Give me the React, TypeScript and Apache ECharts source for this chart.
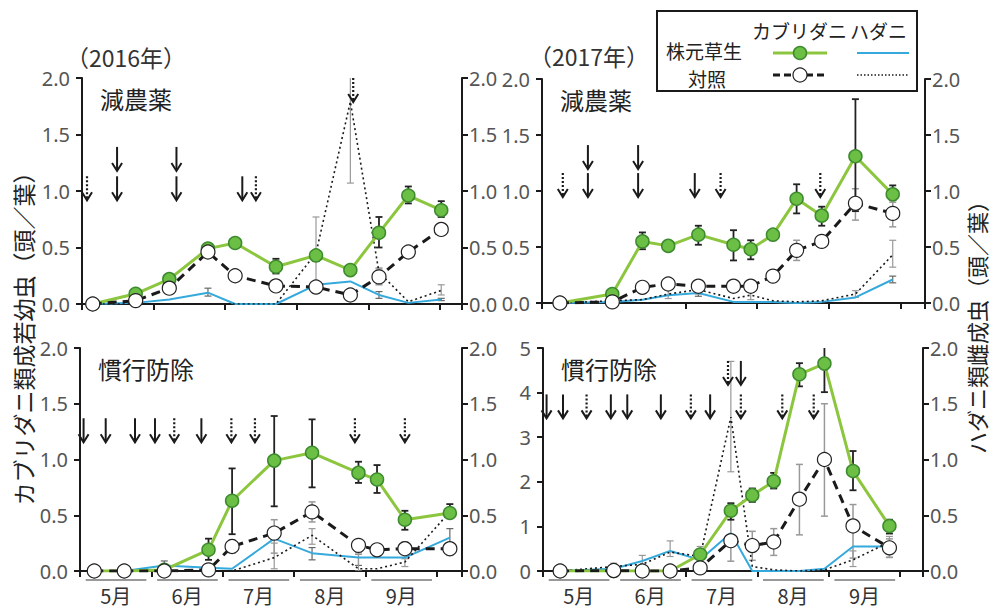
import React, { useEffect, useRef } from 'react';
import * as echarts from 'echarts';

type Err = [number, number] | null;

// x values are dates in month units (5.0 = 1 May, 6.0 = 1 June, ...)
const monthStarts = [5, 6, 7, 8, 9];

// ---- 2016, 減農薬 ----
const d16r = [5.15, 5.75, 6.22, 6.76, 7.14, 7.71, 8.27, 8.75, 9.15, 9.56, 10.02];
const kabGrass16r = [0, 0.09, 0.22, 0.49, 0.54, 0.33, 0.43, 0.30, 0.63, 0.96, 0.83];
const kabGrassErr16r: Err[] = [null, null, null, null, null, [0.27, 0.40], [0.38, 0.47], [0.27, 0.33], [0.50, 0.77], [0.89, 1.04], [0.77, 0.91]];
const kabCtrl16r = [0, 0.03, 0.14, 0.46, 0.25, 0.16, 0.15, 0.08, 0.24, 0.46, 0.66];
const kabCtrlErr16r: Err[] = [null, null, null, null, null, null, null, null, [0.17, 0.31], null, null];
const hadGrass16r = [0, 0.01, 0.04, 0.10, 0, 0, 0.17, 0.20, 0.08, 0.01, 0.04];
const hadGrassErr16r: Err[] = [null, null, null, [0.07, 0.14], null, null, null, null, [0.05, 0.11], null, [0.03, 0.05]];
const hadCtrl16r = [0, 0, 0, 0, 0, 0, 0.45, 1.79, 0.28, 0.02, 0.12];
const hadCtrlErr16r: Err[] = [null, null, null, null, null, null, [0.13, 0.77], [1.07, 2.51], [0.20, 0.32], null, [0.08, 0.17]];
// [date, top of arrow (left-axis units), 1 = dotted arrow]
const spray16r = [[5.07, 1.13, 1], [5.49, 1.39, 0], [5.49, 1.13, 0], [6.32, 1.39, 0], [6.32, 1.13, 0], [7.24, 1.13, 0], [7.43, 1.13, 1], [8.79, 2.0, 1]];

// ---- 2017, 減農薬 ----
const d17r = [5.25, 5.98, 6.40, 6.76, 7.18, 7.67, 7.91, 8.22, 8.55, 8.90, 9.37, 9.89];
const kabGrass17r = [0, 0.08, 0.55, 0.51, 0.61, 0.52, 0.48, 0.61, 0.93, 0.78, 1.31, 0.97];
const kabGrassErr17r: Err[] = [null, null, [0.48, 0.63], [0.48, 0.54], [0.52, 0.69], [0.38, 0.65], [0.39, 0.56], [0.56, 0.65], [0.80, 1.06], [0.69, 0.86], [0.82, 1.82], [0.92, 1.05]];
const kabCtrl17r = [0, 0.01, 0.14, 0.17, 0.15, 0.15, 0.15, 0.24, 0.47, 0.55, 0.89, 0.80];
const kabCtrlErr17r: Err[] = [null, null, null, null, null, null, null, null, [0.38, 0.56], null, [0.74, 1.02], [0.68, 0.90]];
const hadGrass17r = [0, 0.01, 0.03, 0.07, 0.09, 0.01, 0.01, 0.01, 0, 0.01, 0.05, 0.21];
const hadGrassErr17r: Err[] = [null, null, null, null, [0.06, 0.12], null, null, null, null, null, null, [0.18, 0.24]];
const hadCtrl17r = [0, 0.02, 0.03, 0.08, 0.12, 0.04, 0.07, 0.02, 0.01, 0.02, 0.08, 0.43];
const hadCtrlErr17r: Err[] = [null, null, null, [0.04, 0.12], [0.08, 0.16], null, [0.03, 0.10], null, null, null, [0.05, 0.11], [0.32, 0.56]];
const spray17r = [[5.29, 1.16, 1], [5.64, 1.41, 0], [5.64, 1.16, 0], [6.34, 1.41, 0], [6.34, 1.16, 0], [7.13, 1.16, 0], [7.49, 1.16, 1], [8.88, 1.16, 1]];

// ---- 2016, 慣行防除 ----
const d16c = [5.20, 5.62, 6.18, 6.80, 7.13, 7.72, 8.25, 8.90, 9.16, 9.55, 10.18];
const kabGrass16c = [0, 0, 0.01, 0.19, 0.63, 0.99, 1.06, 0.88, 0.82, 0.46, 0.52];
const kabGrassErr16c: Err[] = [null, null, null, [0.10, 0.29], [0.33, 0.92], [0.58, 1.39], [0.75, 1.36], [0.79, 0.98], [0.70, 0.95], [0.37, 0.54], [0.50, 0.60]];
const kabCtrl16c = [0, 0, 0, 0.01, 0.22, 0.34, 0.53, 0.23, 0.19, 0.20, 0.20];
const kabCtrlErr16c: Err[] = [null, null, null, null, [0.16, 0.28], [0.16, 0.46], [0.44, 0.62], [0.15, 0.27], [0.14, 0.24], [0.16, 0.26], [0.14, 0.25]];
const hadGrass16c = [0, 0, 0.05, 0.03, 0.02, 0.29, 0.16, 0.12, 0.12, 0.12, 0.30];
const hadGrassErr16c: Err[] = [null, null, [0.02, 0.09], null, null, null, [0.10, 0.21], [0.05, 0.17], null, null, [0.22, 0.38]];
const hadCtrl16c = [0, 0, 0, 0, 0, 0.12, 0.32, 0.02, 0.02, 0.08, 0.53];
const hadCtrlErr16c: Err[] = [null, null, null, null, null, [0.02, 0.25], [0.24, 0.38], [0, 0.15], null, [0.04, 0.11], null];
const spray16c = [[5.05, 1.37, 0], [5.36, 1.37, 0], [5.77, 1.37, 0], [6.05, 1.37, 0], [6.32, 1.37, 1], [6.70, 1.37, 0], [7.12, 1.37, 1], [7.45, 1.37, 1], [8.85, 1.37, 1], [9.55, 1.37, 1]];

// ---- 2017, 慣行防除 (left axis 0-5) ----
const d17c = [5.24, 5.99, 6.39, 6.78, 7.20, 7.63, 7.93, 8.23, 8.59, 8.94, 9.34, 9.85];
const kabGrass17c = [0, 0, 0, 0, 0.37, 1.35, 1.70, 2.01, 4.41, 4.65, 2.24, 1.01];
const kabGrassErr17c: Err[] = [null, null, null, null, [0.30, 0.45], [1.15, 1.52], [1.55, 1.85], [1.85, 2.20], [4.14, 4.66], [4.01, 5.31], [1.81, 2.69], [0.84, 1.15]];
const kabCtrl17c = [0, 0.01, 0, 0, 0.07, 0.68, 0.57, 0.65, 1.61, 2.50, 1.01, 0.52];
const kabCtrlErr17c: Err[] = [null, null, null, null, null, [0.22, 1.43], [0.24, 0.89], [0.35, 0.95], [0.81, 2.39], [1.23, 3.75], [0.29, 1.49], [0.31, 0.72]];
const hadGrass17c = [0, 0.02, 0.09, 0.18, 0.10, 0.34, 0, 0, 0, 0.02, 0.22, 0.22];
const hadGrassErr17c: Err[] = [null, null, null, null, null, null, null, null, null, null, null, null];
const hadCtrl17c = [0, 0.04, 0.06, 0.17, 0.13, 1.38, 0.04, 0.01, 0, 0.01, 0.10, 0.26];
const hadCtrlErr17c: Err[] = [null, [0.01, 0.07], [0.02, 0.14], [0.13, 0.27], [0.06, 0.22], [0.89, 1.88], null, null, null, null, [0.04, 0.18], [0.12, 0.31]];
const spray17c = [[5.05, 3.96, 0], [5.28, 3.96, 0], [5.61, 3.96, 1], [5.95, 3.96, 0], [6.18, 3.96, 0], [6.65, 3.96, 0], [7.07, 3.96, 1], [7.34, 3.96, 0], [7.59, 4.71, 1], [7.77, 4.71, 0], [7.77, 3.96, 1], [8.35, 3.96, 1], [8.79, 3.96, 1]];

const INK = '#1a1a1a';
const GREEN_LINE = '#8CC63F';
const GREEN_FILL = '#6CBF45';
const GREEN_EDGE = '#3D8B2E';
const BLUE = '#35A9DC';
const JP = "'Noto Sans CJK JP', 'Noto Sans', sans-serif";
const NUM = "'Noto Sans', 'Noto Sans CJK JP', sans-serif";

const panels = [
  { grid: { left: 82, top: 78, width: 380, height: 226 }, xMax: 10.31, leftMax: 2, leftInterval: 0.5, leftDigits: 1, months: false, title: '減農薬',
    dates: d16r, kabGrass: kabGrass16r, kabGrassErr: kabGrassErr16r, kabCtrl: kabCtrl16r, kabCtrlErr: kabCtrlErr16r,
    hadGrass: hadGrass16r, hadGrassErr: hadGrassErr16r, hadCtrl: hadCtrl16r, hadCtrlErr: hadCtrlErr16r, sprays: spray16r },
  { grid: { left: 542, top: 79, width: 383, height: 224 }, xMax: 10.34, leftMax: 2, leftInterval: 0.5, leftDigits: 1, months: false, title: '減農薬',
    dates: d17r, kabGrass: kabGrass17r, kabGrassErr: kabGrassErr17r, kabCtrl: kabCtrl17r, kabCtrlErr: kabCtrlErr17r,
    hadGrass: hadGrass17r, hadGrassErr: hadGrassErr17r, hadCtrl: hadCtrl17r, hadCtrlErr: hadCtrlErr17r, sprays: spray17r },
  { grid: { left: 80, top: 348, width: 382, height: 223 }, xMax: 10.35, leftMax: 2, leftInterval: 0.5, leftDigits: 1, months: true, title: '慣行防除',
    dates: d16c, kabGrass: kabGrass16c, kabGrassErr: kabGrassErr16c, kabCtrl: kabCtrl16c, kabCtrlErr: kabCtrlErr16c,
    hadGrass: hadGrass16c, hadGrassErr: hadGrassErr16c, hadCtrl: hadCtrl16c, hadCtrlErr: hadCtrlErr16c, sprays: spray16c },
  { grid: { left: 543, top: 348, width: 380, height: 223 }, xMax: 10.32, leftMax: 5, leftInterval: 1, leftDigits: 0, months: true, title: '慣行防除',
    dates: d17c, kabGrass: kabGrass17c, kabGrassErr: kabGrassErr17c, kabCtrl: kabCtrl17c, kabCtrlErr: kabCtrlErr17c,
    hadGrass: hadGrass17c, hadGrassErr: hadGrassErr17c, hadCtrl: hadCtrl17c, hadCtrlErr: hadCtrlErr17c, sprays: spray17c },
];

function errSeries(xi: number, yi: number, dates: number[], errs: Err[], color: string, width: number) {
  const data: number[][] = [];
  dates.forEach((d, k) => { const e = errs[k]; if (e) data.push([d, e[0], e[1]]); });
  return {
    type: 'custom', xAxisIndex: xi, yAxisIndex: yi, clip: true, z: 1, silent: true, data,
    encode: { x: 0, y: [1, 2] },
    renderItem: (_p: any, api: any) => {
      const x = api.value(0);
      const lo = api.coord([x, api.value(1)]);
      const hi = api.coord([x, api.value(2)]);
      const c = 3.5;
      const st = { stroke: color, lineWidth: width };
      return {
        type: 'group', children: [
          { type: 'line', shape: { x1: lo[0], y1: lo[1], x2: hi[0], y2: hi[1] }, style: st },
          { type: 'line', shape: { x1: hi[0] - c, y1: hi[1], x2: hi[0] + c, y2: hi[1] }, style: st },
          { type: 'line', shape: { x1: lo[0] - c, y1: lo[1], x2: lo[0] + c, y2: lo[1] }, style: st },
        ],
      };
    },
  };
}

function monthLabel(v: number) {
  const t = v * 2;
  const r = Math.round(t);
  if (Math.abs(t - r) > 1e-6 || r % 2 !== 1) return '';
  return `${Math.floor(v)}月`;
}

function buildOption() {
  const grids: any[] = [];
  const xAxes: any[] = [];
  const yAxes: any[] = [];
  const series: any[] = [];
  const graphics: any[] = [];
  const axisLineStyle = { color: INK, width: 2 };

  panels.forEach((p, i) => {
    grids.push({ ...p.grid, containLabel: false });
    const xi = xAxes.length;
    xAxes.push({
      type: 'value', gridIndex: i, min: 5, max: p.xMax, interval: 1,
      axisLine: { show: true, onZero: false, lineStyle: axisLineStyle },
      axisTick: { show: true, inside: false, length: 6, lineStyle: { color: INK, width: 2 } },
      axisLabel: { show: false }, splitLine: { show: false },
    });
    if (p.months) {
      xAxes.push({
        type: 'value', gridIndex: i, min: 5, max: p.xMax, interval: 0.5, position: 'bottom',
        axisLine: { show: false, onZero: false }, axisTick: { show: false }, splitLine: { show: false },
        axisLabel: { show: true, margin: 14, fontSize: 20, lineHeight: 20, color: '#333', fontFamily: JP, formatter: monthLabel },
      });
    }
    const yl = yAxes.length;
    yAxes.push({
      type: 'value', gridIndex: i, position: 'left', min: 0, max: p.leftMax, interval: p.leftInterval,
      axisLine: { show: true, onZero: false, lineStyle: axisLineStyle },
      axisTick: { show: true, length: 6, lineStyle: { color: INK, width: 2 } },
      axisLabel: { margin: 12, fontSize: 20, lineHeight: 20, color: '#555', fontFamily: NUM, formatter: (v: number) => v.toFixed(p.leftDigits) },
      splitLine: { show: false },
    });
    const yr = yAxes.length;
    yAxes.push({
      type: 'value', gridIndex: i, position: 'right', min: 0, max: 2, interval: 0.5,
      axisLine: { show: true, onZero: false, lineStyle: axisLineStyle },
      axisTick: { show: true, length: 6, lineStyle: { color: INK, width: 2 } },
      axisLabel: { margin: 7, fontSize: 20, lineHeight: 20, color: '#555', fontFamily: NUM, formatter: (v: number) => v.toFixed(1) },
      splitLine: { show: false },
    });

    const pts = (vals: number[]) => p.dates.map((d, k) => [d, vals[k]]);

    series.push(errSeries(xi, yr, p.dates, p.hadGrassErr, '#666', 1.2));
    series.push(errSeries(xi, yr, p.dates, p.hadCtrlErr, '#999', 1.2));
    series.push(errSeries(xi, yl, p.dates, p.kabCtrlErr, '#999', 1.5));
    series.push(errSeries(xi, yl, p.dates, p.kabGrassErr, '#222', 1.8));

    series.push({
      type: 'line', name: 'ハダニ 株元草生', xAxisIndex: xi, yAxisIndex: yr, data: pts(p.hadGrass),
      symbol: 'none', lineStyle: { color: BLUE, width: 2 }, z: 2, silent: true,
    });
    series.push({
      type: 'line', name: 'ハダニ 対照', xAxisIndex: xi, yAxisIndex: yr, data: pts(p.hadCtrl),
      symbol: 'none', lineStyle: { color: INK, width: 1.6, type: [2, 3] }, z: 2, silent: true,
    });
    series.push({
      type: 'line', name: 'カブリダニ 株元草生', xAxisIndex: xi, yAxisIndex: yl, data: pts(p.kabGrass),
      symbol: 'circle', symbolSize: 13, itemStyle: { color: GREEN_FILL, borderColor: GREEN_EDGE, borderWidth: 1.5 },
      lineStyle: { color: GREEN_LINE, width: 3 }, z: 3, silent: true,
    });
    series.push({
      type: 'line', name: 'カブリダニ 対照', xAxisIndex: xi, yAxisIndex: yl, data: pts(p.kabCtrl),
      symbol: 'circle', symbolSize: 14, itemStyle: { color: '#fff', borderColor: '#222', borderWidth: 1.2 },
      lineStyle: { color: INK, width: 3, type: [9, 6] }, z: 4, silent: true,
    });

    // spray arrows
    series.push({
      type: 'custom', xAxisIndex: xi, yAxisIndex: yl, clip: false, z: 6, silent: true, data: p.sprays,
      encode: { x: 0, y: 1 },
      renderItem: (_pp: any, api: any) => {
        const c = api.coord([api.value(0), api.value(1)]);
        const x = c[0], y = c[1], L = 24;
        const dotted = api.value(2) === 1;
        const shaftStyle: any = { stroke: INK, lineWidth: dotted ? 2.2 : 2 };
        if (dotted) shaftStyle.lineDash = [2, 2];
        return {
          type: 'group', children: [
            { type: 'line', shape: { x1: x, y1: y, x2: x, y2: y + L - 1 }, style: shaftStyle },
            { type: 'polyline', shape: { points: [[x - 5, y + L - 8], [x, y + L], [x + 5, y + L - 8]] }, style: { stroke: INK, lineWidth: 2, fill: null } },
          ],
        };
      },
    });

    if (p.months) {
      series.push({
        type: 'custom', xAxisIndex: xi, yAxisIndex: yl, clip: false, silent: true, z: 1,
        data: monthStarts.map((m) => [m, 0]), encode: { x: 0, y: 1 },
        renderItem: (_pp: any, api: any) => {
          const m = api.value(0);
          const a = api.coord([m + 0.08, 0]);
          const b = api.coord([m + 0.93, 0]);
          return { type: 'line', shape: { x1: a[0], y1: a[1] + 9, x2: b[0], y2: b[1] + 9 }, style: { stroke: '#777', lineWidth: 1.5 } };
        },
      });
    }

    graphics.push({
      type: 'text', x: p.grid.left + 18, y: p.grid.top + 20,
      style: { text: p.title, fontSize: 24, fill: '#222', fontFamily: JP, verticalAlign: 'middle' },
    });
  });

  // year titles
  graphics.push({ type: 'text', x: 66, y: 57, style: { text: '（2016年）', fontSize: 23, lineHeight: 23, fill: '#333', fontFamily: JP, verticalAlign: 'middle' } });
  graphics.push({ type: 'text', x: 529, y: 56, style: { text: '（2017年）', fontSize: 23, lineHeight: 23, fill: '#333', fontFamily: JP, verticalAlign: 'middle' } });

  // axis titles
  graphics.push({
    type: 'text', x: 23, y: 333, rotation: Math.PI / 2,
    style: { text: 'カブリダニ類成若幼虫（頭／葉）', fontSize: 23, fill: '#222', fontFamily: JP, align: 'center', verticalAlign: 'middle' },
  });
  graphics.push({
    type: 'text', x: 976, y: 322, rotation: Math.PI / 2,
    style: { text: 'ハダニ類雌成虫（頭／葉）', fontSize: 22, fill: '#222', fontFamily: JP, align: 'center', verticalAlign: 'middle' },
  });

  // legend box
  graphics.push({ type: 'rect', shape: { x: 657, y: 11, width: 260, height: 80 }, style: { stroke: INK, lineWidth: 2, fill: '#fff' }, z: 10 });
  const lg = (t: string, x: number, y: number, size: number) => ({
    type: 'text', x, y, z: 11, style: { text: t, fontSize: size, lineHeight: size, fill: '#222', fontFamily: JP, verticalAlign: 'middle' },
  });
  graphics.push(lg('カブリダニ', 752, 30, 19));
  graphics.push(lg('ハダニ', 850, 30, 19));
  graphics.push(lg('株元草生', 666, 50, 19));
  graphics.push(lg('対照', 688, 78, 19));
  graphics.push({ type: 'line', z: 11, shape: { x1: 773, y1: 53, x2: 827, y2: 53 }, style: { stroke: GREEN_LINE, lineWidth: 3 } });
  graphics.push({ type: 'circle', z: 12, shape: { cx: 800, cy: 53, r: 6.5 }, style: { fill: GREEN_FILL, stroke: GREEN_EDGE, lineWidth: 1.5 } });
  graphics.push({ type: 'line', z: 11, shape: { x1: 857, y1: 53, x2: 909, y2: 53 }, style: { stroke: BLUE, lineWidth: 2 } });
  graphics.push({ type: 'line', z: 11, shape: { x1: 773, y1: 75, x2: 827, y2: 75 }, style: { stroke: INK, lineWidth: 3, lineDash: [7, 4] } });
  graphics.push({ type: 'circle', z: 12, shape: { cx: 800, cy: 75, r: 7 }, style: { fill: '#fff', stroke: '#222', lineWidth: 1.2 } });
  graphics.push({ type: 'line', z: 11, shape: { x1: 857, y1: 75, x2: 909, y2: 75 }, style: { stroke: INK, lineWidth: 1.4, lineDash: [1.5, 2] } });

  return {
    animation: false,
    backgroundColor: '#fff',
    grid: grids,
    xAxis: xAxes,
    yAxis: yAxes,
    series,
    graphic: graphics,
  };
}

export default function App() {
  const ref = useRef<HTMLDivElement>(null);
  useEffect(() => {
    if (!ref.current) return;
    const chart = echarts.init(ref.current, undefined, { renderer: 'svg' });
    chart.setOption(buildOption() as any);
    return () => chart.dispose();
  }, []);
  return <div ref={ref} style={{ position: 'fixed', left: 0, top: 0, width: 992, height: 610 }} />;
}
